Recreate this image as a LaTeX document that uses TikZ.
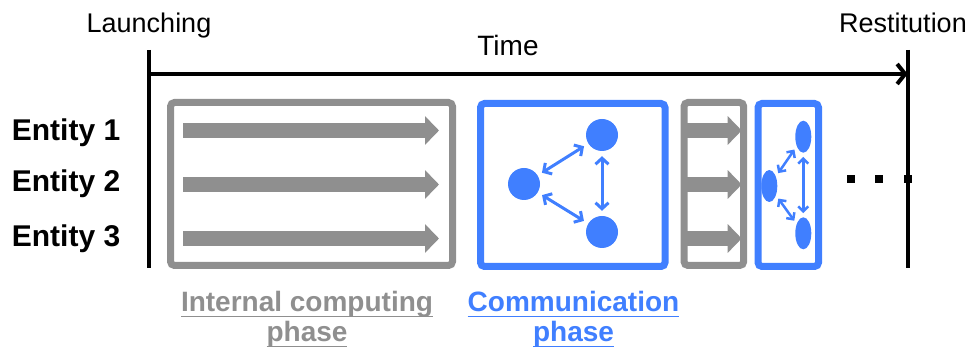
\documentclass[tikz,border=0pt]{standalone}
\usepackage{fontspec}
\setmainfont{Liberation Sans}
\usetikzlibrary{arrows.meta,shapes.geometric}
\definecolor{compgray}{RGB}{143,143,143}
\definecolor{commblue}{RGB}{64,127,255}
\newcommand{\ulined}[1]{\setbox0\hbox{#1}\rlap{\rule[-5.6pt]{\wd0}{1.5pt}}\box0}
\edef\ra{130.5}
\edef\rb{\fpeval{\ra+54}}
\edef\rc{\fpeval{\rb+54}}

\begin{document}
\begin{tikzpicture}[x=1pt,y=-1pt,
  axis/.style={line width=4pt},
  box/.style={line width=7pt,rounded corners=4pt},
  flow/.style={compgray,line width=15pt,-{Triangle[length=14pt,width=28pt]}},
  site/.style={circle,fill=commblue,inner sep=0pt,minimum size=32pt},
  smallsite/.style={ellipse,fill=commblue,inner sep=0pt,minimum width=16pt,minimum height=32pt},
  link/.style={commblue,line width=3pt,{Straight Barb[length=6pt,width=13pt]}-{Straight Barb[length=6pt,width=13pt]},shorten <=5pt,shorten >=5pt},
  smalllink/.style={commblue,line width=2.5pt,{Straight Barb[length=5pt,width=10pt]}-{Straight Barb[length=5pt,width=10pt]},shorten <=4pt,shorten >=4pt},
  dotsq/.style={rectangle,fill=black,inner sep=0pt,minimum size=8pt},
  event/.style={anchor=base,inner sep=0pt,font=\fontsize{27pt}{32pt}\selectfont},
  entity/.style={anchor=base west,inner sep=0pt,font=\fontsize{30pt}{36pt}\selectfont\bfseries},
  phase/.style={anchor=north,inner sep=0pt,align=center,font=\fontsize{28pt}{30pt}\selectfont\bfseries}]
  \useasboundingbox (0,0) rectangle (970,352);

  % the time axis
  \coordinate (launch top) at (149,50);
  \coordinate (launch bot) at (149,268);
  \coordinate (rest top) at (907.7,50);
  \coordinate (rest bot) at (907.7,268);
  \coordinate (start) at (149,74);
  \coordinate (stop) at (907.7,74);
  \draw[axis] (launch top) -- (launch bot);
  \draw[axis] (rest top) -- (rest bot);
  \draw[axis,-{Straight Barb[length=8pt,width=20pt]}] (start) -- (stop);

  % label the axis
  \node[event] (launch) at (149,33) {Launching};
  \node[event,font=\fontsize{28pt}{32pt}\selectfont] (time) at (508,56) {Time};
  \node[event] (rest) at (903,33) {Restitution};

  % the entities
  \node[entity] (e1) at (11.7,141) {Entity 1};
  \node[entity] (e2) at (11.7,192) {Entity 2};
  \node[entity] (e3) at (11.7,247) {Entity 3};

  % internal computing phases
  \draw[box,compgray] (170.5,102.5) rectangle (452.5,265.5);
  \draw[box,compgray] (684,102.5) rectangle (743.7,265.5);
  \foreach \y/\i in {\ra/1,\rb/2,\rc/3} {
    \coordinate (a\i) at (183,\y);
    \coordinate (b\i) at (439,\y);
    \coordinate (c\i) at (687,\y);
    \coordinate (d\i) at (741.7,\y);
    \draw[flow] (a\i) -- (b\i);
    \draw[flow] (c\i) -- (d\i);
  }

  % communication phases
  \draw[box,commblue] (480.5,103.5) rectangle (665,266.5);
  \node[site] (p1) at (602,135) {};
  \node[site] (p2) at (524,184) {};
  \node[site] (p3) at (602,232) {};
  \draw[link] (p2) -- (p1);
  \draw[link] (p1) -- (p3);
  \draw[link] (p2) -- (p3);

  \draw[box,commblue] (758,103.5) rectangle (818.5,266.5);
  \node[smallsite] (q1) at (803.3,136.7) {};
  \node[smallsite] (q2) at (769.3,186) {};
  \node[smallsite] (q3) at (803.3,233.3) {};
  \draw[smalllink] (q2) -- (q1);
  \draw[smalllink] (q1) -- (q3);
  \draw[smalllink] (q2) -- (q3);

  % and so on
  \foreach \x [count=\i] in {851,879.3,907.7}
    \node[dotsq] (dot\i) at (\x,179.3) {};

  % name the phases
  \node[phase,compgray] (internal) at (307,291) {\ulined{Internal computing}\\\ulined{phase}};
  \node[phase,commblue] (comm) at (573.5,291) {\ulined{Communication}\\\ulined{phase}};
\end{tikzpicture}
\end{document}
